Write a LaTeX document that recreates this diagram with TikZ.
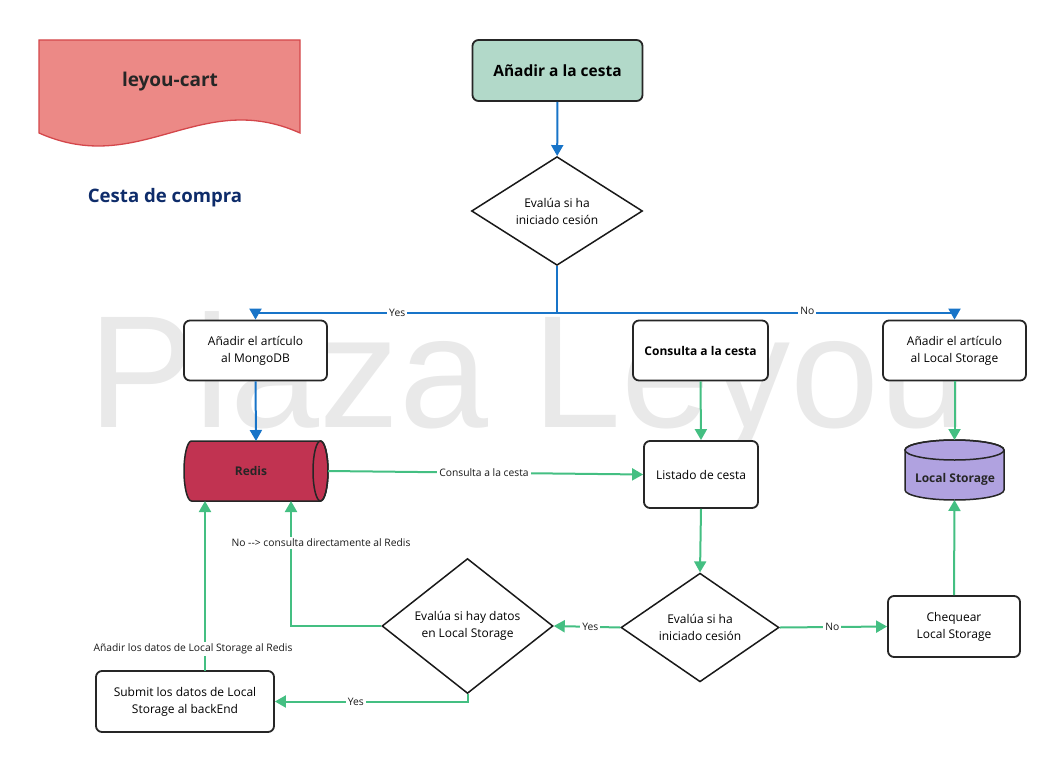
\documentclass[tikz,border=0pt]{standalone}
\usepackage{fontspec}
\setmainfont{Open Sans}
\newfontfamily\wmfont{Liberation Sans}
\usetikzlibrary{shapes.geometric,arrows.meta,calc}
\definecolor{bluec}{HTML}{1874C8}
\definecolor{greenc}{HTML}{44BF82}
\definecolor{bannerfill}{HTML}{EC8986}
\definecolor{bannerdraw}{HTML}{D4474B}
\definecolor{startfill}{HTML}{B2D9C9}
\definecolor{redisfill}{HTML}{C13351}
\definecolor{lsfill}{HTML}{B0A2E0}
\definecolor{titleblue}{HTML}{0E2C6A}
\definecolor{wmgray}{HTML}{E9E9E9}
\begin{document}
\begin{tikzpicture}[x=1pt,y=-1pt,
  box/.style={draw=black!85, line width=1.8pt, rounded corners=6pt, fill=white, align=center, inner sep=0pt,
    font=\fontsize{12}{17}\selectfont},
  dia/.style={draw=black!90, line width=1.5pt, shape=diamond, fill=white, align=center, inner sep=0pt,
    font=\fontsize{12}{17}\selectfont},
  bluearr/.style={draw=bluec, line width=2pt, -{Triangle[length=11pt,width=12pt]}},
  blueline/.style={draw=bluec, line width=2pt},
  greenarr/.style={draw=greenc, line width=2pt, -{Triangle[length=11pt,width=12pt]}},
  greenline/.style={draw=greenc, line width=2pt},
  lbl/.style={fill=white, inner sep=2pt, font=\fontsize{10.3}{12}\selectfont, text=black!90},
  anchorbox/.style={inner sep=0pt, outer sep=0pt}
]
\useasboundingbox (0,0) rectangle (1064,770);
% watermark
\node[anchor=base west, inner sep=0pt, text=wmgray, font=\wmfont\fontsize{160}{160}\selectfont] (wm) at (88,427) {Plaza Leyou};

% banner
\path[fill=bannerfill, draw=bannerdraw, line width=1.3pt] (39,40) -- (300,40) -- (300,133)
  .. controls (200,88) and (140,178) .. (39,133) -- cycle;
\node[font=\bfseries\fontsize{19}{22}\selectfont, text=black!85] (bannertxt) at (170,82) {leyou-cart};
\node[font=\bfseries\fontsize{18.6}{22}\selectfont, text=titleblue] (title) at (165,198) {Cesta de compra};

% start
\node[box, fill=startfill, minimum width=170pt, minimum height=61pt, font=\bfseries\fontsize{15.5}{18}\selectfont] (start) at (557.5,70.5) {Añadir a la cesta};
\node[dia, minimum width=171pt, minimum height=101pt] (d1) at (557,211) {Evalúa si ha\\iniciado cesión};
\coordinate (split) at (557,313);

% row 2
\node[box, minimum width=143pt, minimum height=60pt] (mongo) at (255.5,350.5) {Añadir el artículo\\al MongoDB};
\node[box, minimum width=135pt, minimum height=60pt, font=\bfseries\fontsize{12}{17}\selectfont] (consulta) at (700.5,350.5) {Consulta a la cesta};
\node[box, minimum width=143pt, minimum height=60pt] (lsbox) at (954.5,350.5) {Añadir el artículo\\al Local Storage};

% Redis cylinder
\node[anchorbox, minimum width=144pt, minimum height=60pt] (redis) at (256,471) {};
\path[fill=redisfill, draw=black!85, line width=1.5pt] (191.5,441) -- (320.5,441)
  arc[start angle=90, end angle=-90, x radius=7.5pt, y radius=30pt] -- (191.5,501)
  arc[start angle=-90, end angle=-270, x radius=7.5pt, y radius=30pt] -- cycle;
\draw[black!85, line width=1.5pt] (320.5,471) ellipse[x radius=7.5pt, y radius=30pt];
\node[font=\bfseries\fontsize{12}{14}\selectfont, text=black!85] (redistxt) at (251,471) {Redis};

% Listado
\node[box, minimum width=114pt, minimum height=67pt] (listado) at (701,474.5) {Listado de cesta};

% Local Storage cylinder
\node[anchorbox, minimum width=99pt, minimum height=60pt] (lscyl) at (954.5,470) {};
\path[fill=lsfill, draw=black!85, line width=1.5pt] (905,450) -- (905,490)
  arc[start angle=180, end angle=360, x radius=49.5pt, y radius=10pt] -- (1004,450)
  arc[start angle=0, end angle=180, x radius=49.5pt, y radius=10pt] -- cycle;
\draw[black!85, line width=1.5pt] (954.5,450) ellipse[x radius=49.5pt, y radius=10pt];
\node[font=\bfseries\fontsize{12}{14}\selectfont, text=black!85] (lstxt) at (955,479) {Local Storage};

% bottom row
\node[dia, minimum width=158pt, minimum height=96pt] (d2) at (700,627.5) {Evalúa si ha\\iniciado cesión};
\node[box, minimum width=132pt, minimum height=61pt] (cheq) at (954,626.5) {Chequear\\Local Storage};
\node[dia, minimum width=171pt, minimum height=100pt] (d3) at (467.5,626) {Evalúa si hay datos\\en Local Storage};
\node[box, minimum width=178pt, minimum height=61pt] (submit) at (185,701.5) {Submit los datos de Local\\Storage al backEnd};

\coordinate (rin1) at (205,501);
\coordinate (rin2) at (291,501);
\coordinate (sout) at (205,671);
\coordinate (lstop) at (954.5,440);
\coordinate (lsbot) at (954.5,500);

% connectors
\draw[bluearr] (start) -- (d1);
\draw[blueline] (d1.south) -- (split);
\draw[bluearr] (split) -| node[lbl, pos=0.265] (lyes1) {Yes} (mongo.north);
\draw[bluearr] (split) -| node[lbl, pos=0.315, yshift=2pt] (lno1) {No} (lsbox.north);
\draw[bluearr] (mongo.south) -- (redis.north);

\draw[greenarr] (consulta.south) -- (listado.north);
\draw[greenarr] (lsbox.south) -- (lstop);
\draw[greenarr] (redis.east) -- node[lbl, pos=0.495] (lcons) {Consulta a la cesta} (listado.west);
\draw[greenarr] (listado.south) -- (d2.north);
\draw[greenarr] (d2.east) -- node[lbl, pos=0.49] (lno2) {No} (cheq.west);
\draw[greenarr] (cheq.north) -- (lsbot);
\draw[greenarr] (d2.west) -- node[lbl, pos=0.45] (lyes2) {Yes} (d3.east);
\draw[greenarr] (d3.west) -| (rin2);
\node[lbl] (lnored) at (321,543) {No -{}-> consulta directamente al Redis};
\draw[greenarr] (d3.south) |- node[lbl, pos=0.79] (lyes3) {Yes} (submit.east);
\draw[greenarr] (sout) -- (rin1);
\node[lbl] (laddls) at (193,649) {Añadir los datos de Local Storage al Redis};
\end{tikzpicture}
\end{document}
